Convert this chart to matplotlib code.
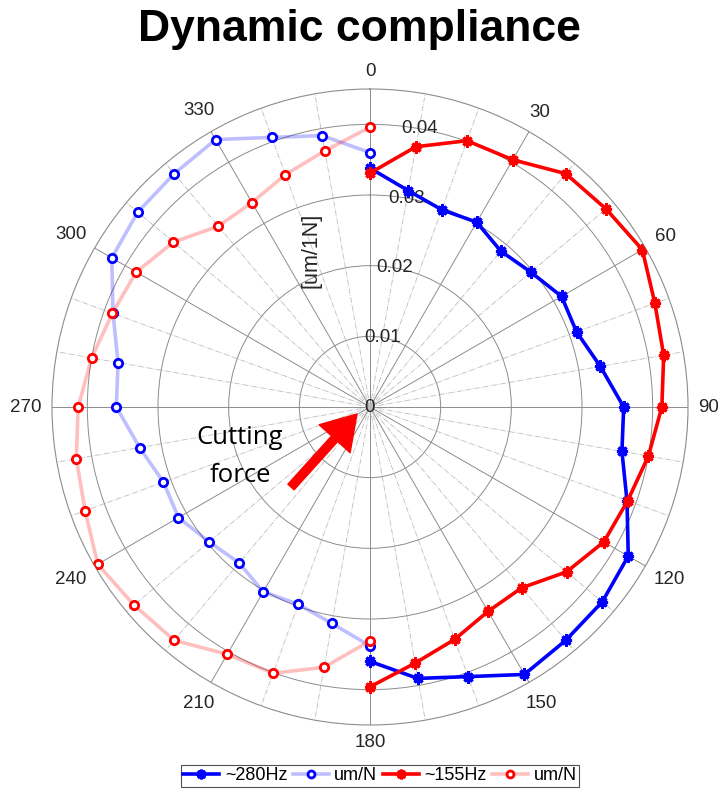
import numpy as np
import matplotlib
matplotlib.use("Agg")
import matplotlib.pyplot as plt
from matplotlib.lines import Line2D

# ---------------- data ----------------
angles_deg = [0, 10, 20, 30, 40, 50, 60, 70, 80, 90, 100, 110, 120, 130, 140, 150, 160, 170, 180]
hz280 = [0.0338, 0.0311, 0.0297, 0.0302, 0.0288, 0.0297, 0.0313, 0.0311, 0.0331, 0.0359,
         0.0362, 0.0387, 0.0422, 0.0429, 0.0431, 0.0437, 0.0406, 0.0390, 0.0360]
hz155 = [0.0331, 0.0374, 0.0401, 0.0404, 0.0431, 0.0436, 0.0445, 0.0429, 0.0422, 0.0413,
         0.0400, 0.0388, 0.0382, 0.0363, 0.0334, 0.0334, 0.0350, 0.0368, 0.0396]
mirror_offset_deg = 180   # "um/N" series: same values drawn on the opposite half
r_ticks = [0.01, 0.02, 0.03, 0.04]
r_tick_labels = ["0.01", "0.02", "0.03", "0.04"]
r_max = 0.045
theta_ticks = list(range(0, 360, 30))
legend_labels = ["~280Hz", "um/N", "~155Hz", "um/N"]
title = "Dynamic compliance"
r_label = "[um/1N]"

BLUE = "#0000ff"
RED = "#ff0000"
TXT = "#262626"

plt.rcParams["font.family"] = ["Liberation Sans", "DejaVu Sans"]

fig = plt.figure(figsize=(7.18, 7.92), dpi=100)
cx, cy, R = 370, 407, 318
W, H = 718, 792
ax = fig.add_axes([(cx - R) / W, (H - cy - R) / H, 2 * R / W, 2 * R / H], projection="polar")
ax.set_theta_zero_location("N")
ax.set_theta_direction(-1)
ax.set_rlim(0, r_max)

th = np.deg2rad(angles_deg)
th_m = np.deg2rad(np.array(angles_deg) + mirror_offset_deg)

ast = (8, 2, 0)
# light (mirrored) series
ax.plot(th_m, hz280, color=BLUE, alpha=0.25, lw=2.6, zorder=3)
ax.plot(th_m, hz280, ls="none", marker="o", ms=6, mew=2, mec=BLUE, mfc="white", zorder=4)
ax.plot(th_m, hz155, color=RED, alpha=0.25, lw=2.6, zorder=3)
ax.plot(th_m, hz155, ls="none", marker="o", ms=6, mew=2, mec=RED, mfc="white", zorder=4)
# main series
ax.plot(th, hz280, color=BLUE, lw=2.6, marker=ast, ms=8, mew=2.2, mec=BLUE, zorder=5)
ax.plot(th, hz155, color=RED, lw=2.6, marker=ast, ms=8, mew=2.2, mec=RED, zorder=5)

# grid
ax.set_xticks(np.deg2rad(theta_ticks))
ax.set_xticks(np.deg2rad([a for a in range(0, 360, 10) if a % 30]), minor=True)
ax.set_xticklabels([])
ax.set_yticks(r_ticks)
ax.set_yticklabels([])
ax.tick_params(which="both", length=0)
ax.xaxis.grid(True, which="major", color="#8c8c8c", lw=0.7, ls="-")
ax.xaxis.grid(True, which="minor", color="#bdbdbd", lw=0.6, ls="-.")
ax.yaxis.grid(True, color="#8c8c8c", lw=0.7, ls="-")
ax.spines["polar"].set_color("#8c8c8c")
ax.spines["polar"].set_linewidth(0.8)

# theta labels (constant gap from the outer circle)
gap, dig_w, txt_h = 10.5, 10.4, 13.5
for a in theta_ticks:
    t = np.deg2rad(a)
    w = dig_w * len(str(a))
    rp = R + gap + 0.5 * (abs(w * np.sin(t)) + abs(txt_h * np.cos(t)))
    x = cx + rp * np.sin(t)
    y = cy - rp * np.cos(t)
    fig.text(x / W, (H - y) / H, str(a), ha="center", va="center", fontsize=13.5, color=TXT)
# radial labels
for r, lab in zip(r_ticks, r_tick_labels):
    ax.text(np.deg2rad(10), r, lab, ha="center", va="center", fontsize=13.5, color=TXT, zorder=2)
ax.text(0, 0, "0", ha="center", va="center", fontsize=13.5, color=TXT, zorder=2)
ax.text(np.deg2rad(-20.6), 0.0237, r_label, rotation=90, ha="center", va="center",
        fontsize=15.5, color=TXT, zorder=2)

fig.text(0.5, (H - 30) / H, title, ha="center", va="center", fontsize=32, fontweight="bold")

# annotation
fig.text(240 / W, (H - 437) / H, "Cutting", ha="center", va="center", fontsize=18.5,
         family=["Open Sans", "DejaVu Sans"])
fig.text(240 / W, (H - 475) / H, "force", ha="center", va="center", fontsize=18.5,
         family=["Open Sans", "DejaVu Sans"])
ax.annotate("", xy=(357, H - 414), xytext=(291, H - 487), xycoords="figure pixels",
            textcoords="figure pixels",
            arrowprops=dict(arrowstyle="simple,head_length=1.2,head_width=1.5,tail_width=0.3",
                            color=RED, shrinkA=0, shrinkB=0, mutation_scale=20), zorder=6)

handles = [
    Line2D([], [], color=BLUE, lw=2.6, marker=ast, ms=7, mew=2),
    Line2D([], [], color=(0, 0, 1, 0.25), lw=2.6, marker="o", ms=5, mew=2, mec=BLUE, mfc="white"),
    Line2D([], [], color=RED, lw=2.6, marker=ast, ms=7, mew=2),
    Line2D([], [], color=(1, 0, 0, 0.25), lw=2.6, marker="o", ms=5, mew=2, mec=RED, mfc="white"),
]
leg = fig.legend(handles, legend_labels, loc="center", bbox_to_anchor=(380 / W, (H - 776) / H),
                 ncol=4, fontsize=13, frameon=True, fancybox=False, handlelength=2.0,
                 handletextpad=0.3, columnspacing=0.3, borderpad=0.15, borderaxespad=0)
leg.get_frame().set_edgecolor("#262626")
leg.get_frame().set_linewidth(0.8)

fig.savefig("out.png", dpi=100, facecolor="white")
